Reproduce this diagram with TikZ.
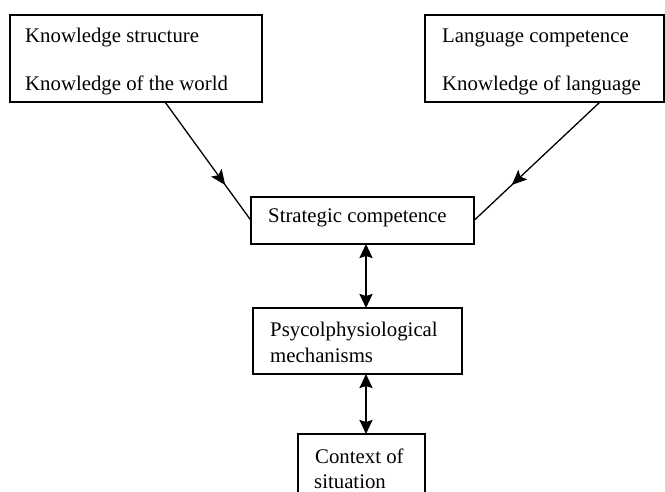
\documentclass[tikz,border=0pt]{standalone}
\usepackage{fontspec}
\setmainfont{Liberation Serif}
\usetikzlibrary{arrows.meta,decorations.markings,calc}
\begin{document}
\begin{tikzpicture}[x=1pt,y=-1pt,
  box/.style={draw=black,line width=1.3pt,inner sep=0pt,outer sep=0pt},
  txt/.style={anchor=base west,inner sep=0pt,font=\fontsize{20.8}{25}\selectfont},
  midarrow/.style={line width=1.3pt,postaction={decorate},
    decoration={markings,mark=at position 0.7 with {\arrow{Stealth[length=15pt,width=13pt,inset=3pt]}}}},
  dbl/.style={line width=2.2pt,{Stealth[length=14pt,width=13pt,inset=2pt]}-{Stealth[length=14pt,width=13pt,inset=2pt]}}]
\clip (0,0) rectangle (665,492);
\fill[white] (0,0) rectangle (665,492);
% boxes
\node[box,minimum width=252pt,minimum height=87pt] (kw) at (136,58.5) {};
\node[box,minimum width=239pt,minimum height=87pt] (lc) at (544.5,58.5) {};
\node[box,minimum width=223pt,minimum height=47pt] (sc) at (362.5,220.5) {};
\node[box,minimum width=209pt,minimum height=66pt] (pm) at (357.5,341) {};
\node[box,minimum width=127pt,minimum height=76pt] (cs) at (361.5,472) {};
% texts
\node[txt] (t1) at (25,43) {Knowledge structure};
\node[txt] (t2) at (25,91) {Knowledge of the world};
\node[txt] (t3) at (442,43) {Language competence};
\node[txt] (t4) at (442,91) {Knowledge of language};
\node[txt] (t5) at (268,223) {Strategic competence};
\node[txt] (t6) at (270,336) {Psycolphysiological};
\node[txt] (t7) at (270,362) {mechanisms};
\node[txt] (t8) at (315,463) {Context of};
\node[txt] (t9) at (314,488) {situation};
% connectors
\coordinate (kwout) at ($(kw.south west)+(155,0)$);
\coordinate (lcout) at ($(lc.south west)+(175,0)$);
\coordinate (ax) at (366,0);
\draw[midarrow] (kwout) -- (sc.west);
\draw[midarrow] (lcout) -- (sc.east);
\draw[dbl] (sc.south -| ax) -- (pm.north -| ax);
\draw[dbl] (pm.south -| ax) -- (cs.north -| ax);
\end{tikzpicture}
\end{document}
